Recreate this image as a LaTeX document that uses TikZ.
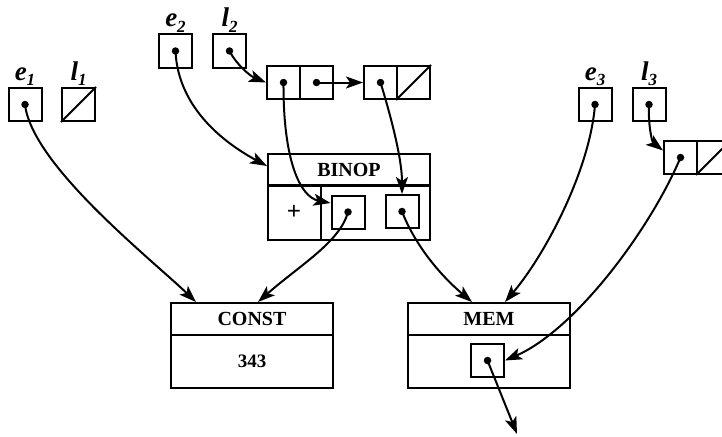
\documentclass[tikz,border=0pt]{standalone}
\usepackage{fontspec}
\setmainfont{Liberation Serif}
\usetikzlibrary{arrows.meta,calc}
\newcommand\lsub[1]{\raisebox{-0.45ex}{\fontsize{17}{18}\selectfont #1}}
\begin{document}
\begin{tikzpicture}[x=1pt,y=-1pt,
  cellbox/.style={draw,line width=2pt,minimum width=33pt,minimum height=33pt,inner sep=0pt},
  dotn/.style={circle,fill,inner sep=0pt,minimum size=7.5pt},
  hdr/.style={draw,line width=2pt,minimum width=162pt,minimum height=32pt,anchor=north west,inner sep=0pt,font=\fontsize{20}{23}\selectfont\bfseries},
  bodyb/.style={draw,line width=2pt,minimum width=162pt,anchor=north west,inner sep=0pt,font=\fontsize{19}{22}\selectfont\bfseries},
  lbl/.style={anchor=south,inner sep=1pt,font=\fontsize{27}{30}\selectfont\bfseries\itshape},
  ptr/.style={line width=2pt,-{Stealth[length=17pt,width=12pt,inset=4pt]}},
  slash/.style={line width=2pt},
]
\clip (0,0) rectangle (722,436);

% top-level variables
\node[cellbox] (e1) at (25,104.5) {};
\node[cellbox] (l1) at (78.5,104.5) {};
\draw[slash] (l1.south west) -- (l1.north east);
\node[cellbox] (e2) at (175.5,51) {};
\node[cellbox] (l2) at (229.5,51) {};
\node[cellbox] (e3) at (595,104.5) {};
\node[cellbox] (l3) at (649,104.5) {};

\node[lbl] at (e1.north) {e\lsub{1}};
\node[lbl] at (l1.north) {l\lsub{1}};
\node[lbl] at (e2.north) {e\lsub{2}};
\node[lbl] at (l2.north) {l\lsub{2}};
\node[lbl] at (e3.north) {e\lsub{3}};
\node[lbl] at (l3.north) {l\lsub{3}};

% list for l2
\node[cellbox] (c1a) at (283.5,82.5) {};
\node[cellbox] (c1b) at (316.5,82.5) {};
\node[cellbox] (c2a) at (380.5,82.5) {};
\node[cellbox] (c2b) at (413.5,82.5) {};
\draw[slash] (c2b.south west) -- (c2b.north east);

% list for l3
\node[cellbox] (c3a) at (680.5,157.5) {};
\node[cellbox] (c3b) at (713.5,157.5) {};
\draw[slash] (c3b.south west) -- (c3b.north east);

% BINOP
\node[hdr] (binh) at (267,153) {BINOP};
\node[bodyb,minimum height=55pt] (binb) at (267,184) {};
\draw[slash] (321,184) -- (321,239);
\node[font=\fontsize{25}{28}\selectfont\bfseries] (plus) at (294,212) {+};
\node[cellbox] (b1) at (348,212) {};
\node[cellbox] (b2) at (402,211.5) {};

% CONST
\node[hdr] (consth) at (170,302) {CONST};
\node[bodyb,minimum height=53pt] (constb) at (170,334) {343};

% MEM
\node[hdr] (memh) at (407,302) {MEM};
\node[bodyb,minimum height=53pt] (memb) at (407,334) {};
\node[cellbox] (m1) at (487.5,360.5) {};
\coordinate (free) at (517,434);

% dots
\foreach \n in {e1,e2,l2,e3,l3,c1a,c1b,c2a,c3a,b1,b2,m1}
  \node[dotn] at (\n.center) {};

% pointers
\draw[ptr] (e1.center) .. controls (32,165) and (150,258) .. ([xshift=26pt]consth.north west);
\draw[ptr] (e2.center) .. controls (178,110) and (228,145) .. ([yshift=4pt]binh.west);
\draw[ptr] (l2.center) .. controls (236,64) and (250,76) .. (c1a.west);
\draw[ptr] (c1b.center) -- (c2a.west);
\draw[ptr] (c1a.center) .. controls (283,160) and (300,197) .. ([yshift=9pt]b1.west);
\draw[ptr] (c2a.center) .. controls (392,120) and (402,160) .. (b2.north);
\draw[ptr] (b1.center) .. controls (340,242) and (300,265) .. ([xshift=88pt]consth.north west);
\draw[ptr] (b2.center) .. controls (415,245) and (440,275) .. ([xshift=65pt]memh.north west);
\draw[ptr] (e3.center) .. controls (590,170) and (545,255) .. ([xshift=98pt]memh.north west);
\draw[ptr] (l3.center) .. controls (648,125) and (652,142) .. ([yshift=7pt]c3a.west);
\draw[ptr] (c3a.center) .. controls (650,230) and (575,330) .. (m1.east);
\draw[ptr] (m1.center) -- (free);
\end{tikzpicture}
\end{document}
